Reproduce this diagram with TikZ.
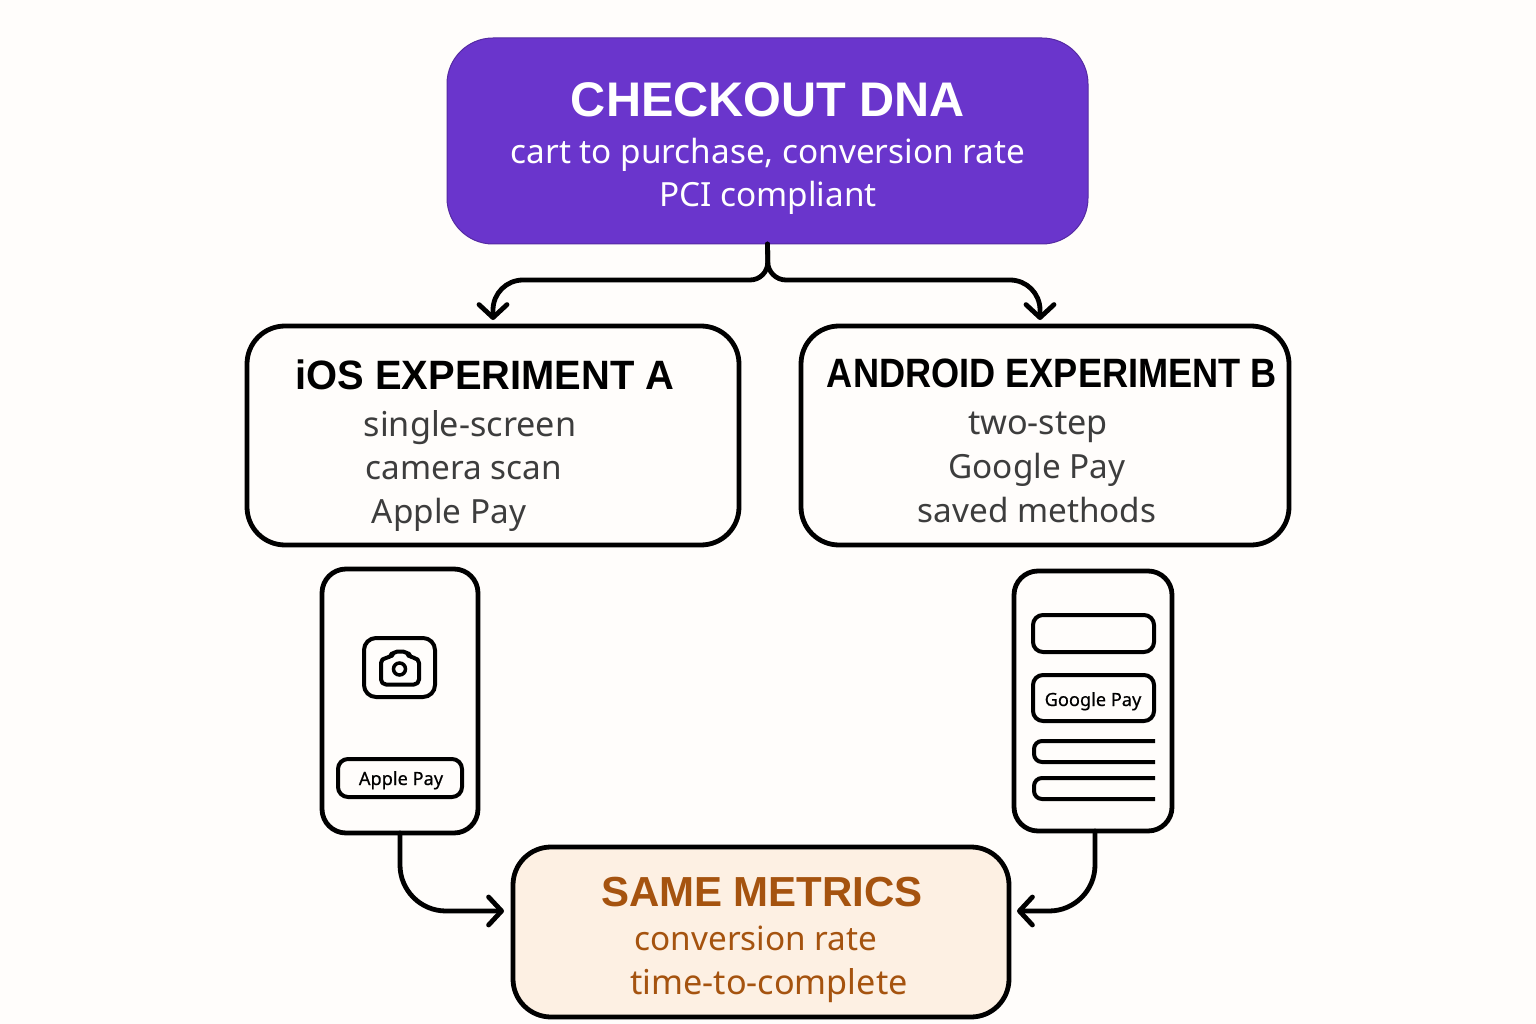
\documentclass[tikz,border=0pt]{standalone}
\usepackage{fontspec}
\setmainfont{Noto Sans}
\newfontfamily\headfont{Liberation Sans Bold}
\usetikzlibrary{arrows.meta}
\definecolor{bgc}{HTML}{FFFDFB}
\definecolor{purplec}{HTML}{6A35CC}
\definecolor{peachc}{HTML}{FDF0E3}
\definecolor{brownc}{HTML}{A5530F}
\definecolor{grayc}{HTML}{3D3D3D}
\tikzset{
  card/.style={draw=black,line width=4.8pt,rounded corners=38pt,fill=bgc,inner sep=0pt,outer sep=0pt},
  phone/.style={draw=black,line width=4.8pt,rounded corners=24pt,fill=bgc,inner sep=0pt,outer sep=0pt},
  btn/.style={draw=black,line width=4pt,rounded corners=10pt,fill=bgc,inner sep=0pt,outer sep=0pt},
  conn/.style={draw=black,line width=4.8pt,line cap=round,line join=round,-{Straight Barb[length=13pt,width=28pt,line width=4.8pt,round]}},
  txt/.style={anchor=base,inner sep=0pt,outer sep=0pt},
  head/.style={txt,font=\fontsize{41}{46}\selectfont\headfont},
  sub/.style={txt,font=\fontsize{33.3}{38}\selectfont},
  subwide/.style={txt,font=\fontsize{34.2}{38}\selectfont},
  small/.style={txt,font=\fontsize{18.2}{22}\selectfont\addfontfeature{FakeBold=0.5}},
  iconline/.style={draw=black,line width=4pt,line join=round,line cap=round}
}
\begin{document}
\begin{tikzpicture}[x=1pt,y=-1pt]
\useasboundingbox (0,0) rectangle (1536,1024);
\fill[bgc] (0,0) rectangle (1536,1024);
% main boxes
\node[fill=purplec,draw=purplec!80!black,line width=1pt,rounded corners=46pt,minimum width=641pt,minimum height=206pt,inner sep=0pt,outer sep=0pt] (top) at (767.5,141) {};
\node[card,minimum width=492pt,minimum height=219pt] (ios) at (493,435.5) {};
\node[card,minimum width=488pt,minimum height=219pt] (android) at (1045,435.5) {};
\node[card,fill=peachc,minimum width=496pt,minimum height=170pt] (metrics) at (761,932) {};
% phones
\node[phone,minimum width=156pt,minimum height=264pt] (phoneA) at (400,701) {};
\node[phone,minimum width=158pt,minimum height=260pt] (phoneB) at (1093,701) {};
% titles and lines
\node[head,white,font=\fontsize{48.6}{52}\selectfont\headfont] (t1) at (768,117) {CHECKOUT DNA};
\node[sub,white] (t2) at (768,164) {cart to purchase, conversion rate};
\node[sub,white] (t3) at (768,207) {PCI compliant};
\node[head] (i1) at (485,389) {\scalebox{.973}[1]{iOS EXPERIMENT A}};
\node[subwide,grayc] (i2) at (470,436) {single-screen};
\node[sub,grayc] (i3) at (464,479) {camera scan};
\node[sub,grayc] (i4) at (449,523) {Apple Pay};
\node[head] (a1) at (1052,387) {\scalebox{.882}[1]{ANDROID EXPERIMENT B}};
\node[subwide,grayc] (a2) at (1038,434) {two-step};
\node[sub,grayc] (a3) at (1037,478) {Google Pay};
\node[sub,grayc] (a4) at (1037,522) {saved methods};
\node[head,brownc,font=\fontsize{42}{46}\selectfont\headfont] (m1) at (762,906) {SAME METRICS};
\node[sub,brownc] (m2) at (756,950) {conversion rate};
\node[subwide,brownc] (m3) at (769,994) {time-to-complete};
% phone A contents
\node[btn,minimum width=71pt,minimum height=59pt,rounded corners=12pt] (camframe) at (399.5,667.5) {};
\draw[iconline,rounded corners=5pt] (381,684.5) -- (381,658) -- (391,658) -- (392.5,651.5) -- (408,651.5) -- (409.5,658) -- (419,658) -- (419,684.5) -- cycle;
\node[draw=black,line width=3.5pt,circle,minimum size=12pt,inner sep=0pt] (lens) at (399.5,669) {};
\node[btn,minimum width=124pt,minimum height=38pt] (applebtn) at (400,778) {};
\node[small] (applet) at (401,785) {Apple Pay};
% phone B contents
\node[btn,minimum width=121pt,minimum height=37pt] (blank) at (1093.5,633.5) {};
\node[btn,minimum width=121pt,minimum height=46pt] (gbtn) at (1093.5,698) {};
\node[small] (gt) at (1093,706) {Google Pay};
\draw[iconline,rounded corners=8pt,line cap=butt] (1155,741) -- (1034,741) -- (1034,762) -- (1155,762);
\draw[iconline,rounded corners=8pt,line cap=butt] (1155,778) -- (1034,778) -- (1034,799) -- (1155,799);
% connector ends
\coordinate (tipA) at (493,320);
\coordinate (tipB) at (1040,320);
\coordinate (tipC) at (504,911);
\coordinate (tipD) at (1017,911);
% connectors
\draw[conn,rounded corners=18pt] (top.south) -- (768,280) [rounded corners=30pt] -- (493,280) -- (tipA);
\draw[conn,rounded corners=18pt] (top.south) -- (768,280) [rounded corners=30pt] -- (1040,280) -- (tipB);
\draw[conn,rounded corners=46pt] (phoneA.south) -- (400,911) -- (tipC);
\draw[conn,rounded corners=46pt] ([xshift=2pt]phoneB.south) -- (1095,911) -- (tipD);
\end{tikzpicture}
\end{document}
